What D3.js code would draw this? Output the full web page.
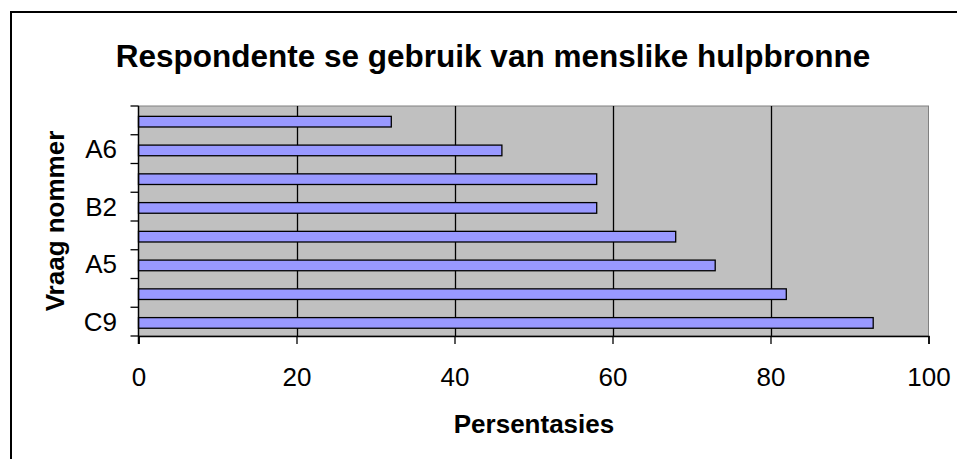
<!DOCTYPE html>
<html>
<head>
<meta charset="utf-8">
<script src="https://cdn.jsdelivr.net/npm/d3@7/dist/d3.min.js"></script>
<style>
  html, body { margin: 0; padding: 0; background: #fff; }
  svg { display: block; font-family: "Liberation Sans", Arial, sans-serif; }
</style>
</head>
<body>
<svg id="chart" width="957" height="459"></svg>
<script>
// Question labels, bottom to top (only every other band carries a label)
const categories = ["C9", "", "A5", "", "B2", "", "A6", ""];
// Percentage of respondents per question, bottom to top
const values = [93, 82, 73, 68, 58, 58, 46, 32];
const xTicks = [0, 20, 40, 60, 80, 100];

const title = "Respondente se gebruik van menslike hulpbronne";
const xTitle = "Persentasies";
const yTitle = "Vraag nommer";

const svg = d3.select("#chart");
const W = 957, H = 459;
const FONT = "'Liberation Sans', Arial, sans-serif";

// Outer chart frame (runs off the right and bottom edges)
svg.append("rect")
  .attr("x", 11).attr("y", 12)
  .attr("width", W + 10).attr("height", H + 10)
  .attr("fill", "#fff").attr("stroke", "#000").attr("stroke-width", 2);

const plot = { left: 138.5, right: 928.5, top: 106, bottom: 336 };

const x = d3.scaleLinear().domain([0, 100]).range([plot.left, plot.right]);
const idx = d3.range(categories.length);
const y = d3.scaleBand().domain(idx).range([plot.bottom, plot.top]);

// Plot area
svg.append("rect")
  .attr("x", plot.left).attr("y", plot.top)
  .attr("width", plot.right - plot.left).attr("height", plot.bottom - plot.top)
  .attr("fill", "#c0c0c0").attr("stroke", "#808080").attr("stroke-width", 1);

// Vertical gridlines
svg.append("g").selectAll("line")
  .data(xTicks.filter(t => t > 0 && t < 100))
  .join("line")
  .attr("x1", d => Math.round(x(d)) + 0.5).attr("x2", d => Math.round(x(d)) + 0.5)
  .attr("y1", plot.top).attr("y2", plot.bottom)
  .attr("stroke", "#000").attr("stroke-width", 1.3);

// Bars
const bw = y.bandwidth();
svg.append("g").selectAll("rect")
  .data(values)
  .join("rect")
  .attr("x", x(0))
  .attr("y", (d, i) => y(i) + bw * 0.36)
  .attr("width", d => x(d) - x(0))
  .attr("height", bw * 0.37)
  .attr("fill", "#9999ff")
  .attr("stroke", "#000")
  .attr("stroke-width", 1.3);

// X axis
const xAxis = d3.axisBottom(x).tickValues(xTicks).tickSize(8).tickPadding(24).tickFormat(d3.format("d"));
const gx = svg.append("g").attr("transform", `translate(0,${plot.bottom})`).call(xAxis);
gx.select(".domain").attr("stroke", "#000").attr("stroke-width", 1.5);
gx.selectAll(".tick line").attr("stroke", "#000").attr("stroke-width", 1.3);
gx.selectAll(".tick text").attr("font-size", 26).attr("fill", "#000").attr("font-family", FONT);

// Y axis: ticks on band boundaries, labels at band centres
const yLine = svg.append("g");
yLine.append("line")
  .attr("x1", plot.left).attr("x2", plot.left)
  .attr("y1", plot.top).attr("y2", plot.bottom + 8)
  .attr("stroke", "#000").attr("stroke-width", 1.5);
const bounds = idx.map(i => y(i) + bw).concat([y(idx.length - 1)]);
yLine.selectAll("line.tk")
  .data(bounds)
  .join("line").attr("class", "tk")
  .attr("x1", plot.left - 8).attr("x2", plot.left)
  .attr("y1", d => d).attr("y2", d => d)
  .attr("stroke", "#000").attr("stroke-width", 1.3);
yLine.selectAll("text")
  .data(idx.filter(i => categories[i] !== ""))
  .join("text")
  .attr("x", 117)
  .attr("y", i => y(i) + bw / 2)
  .attr("dy", "0.36em")
  .attr("text-anchor", "end")
  .attr("font-size", 26)
  .text(i => categories[i]);

// Titles
svg.append("text")
  .attr("x", 493).attr("y", 67)
  .attr("text-anchor", "middle")
  .attr("font-size", 31.5).attr("font-weight", "bold")
  .text(title);

svg.append("text")
  .attr("x", 534).attr("y", 433)
  .attr("text-anchor", "middle")
  .attr("font-size", 26).attr("font-weight", "bold")
  .text(xTitle);

svg.append("text")
  .attr("transform", `translate(64,${(plot.top + plot.bottom) / 2}) rotate(-90)`)
  .attr("text-anchor", "middle")
  .attr("font-size", 26).attr("font-weight", "bold")
  .text(yTitle);
</script>
</body>
</html>
